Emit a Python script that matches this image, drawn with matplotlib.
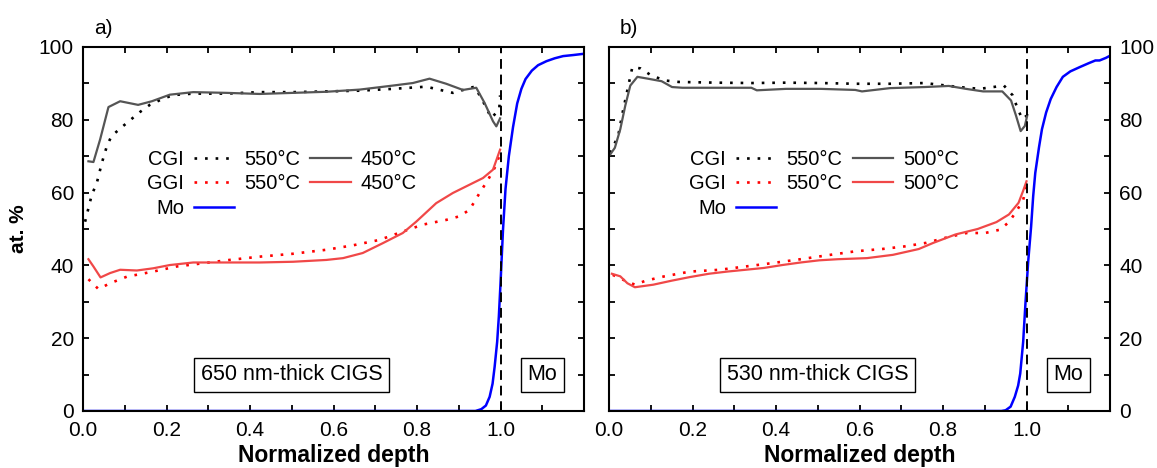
import numpy as np
import matplotlib
matplotlib.use("Agg")
import matplotlib.pyplot as plt
from matplotlib.lines import Line2D
from matplotlib.ticker import FixedLocator

plt.rcParams['font.family'] = ['Liberation Sans', 'DejaVu Sans']
plt.rcParams['font.size'] = 15

# ---------------- panel a) 650 nm ----------------
a_cgi450_x = [0.013, 0.025, 0.041, 0.061, 0.089, 0.132, 0.165, 0.208, 0.264, 0.344, 0.423, 0.503,
              0.583, 0.663, 0.742, 0.790, 0.830, 0.870, 0.910, 0.942, 0.962, 0.982, 0.990, 0.999]
a_cgi450_y = [68.6, 68.4, 74.6, 83.5, 85.1, 84.1, 85.1, 86.9, 87.6, 87.4, 87.1, 87.4,
              87.7, 88.3, 89.4, 90.1, 91.3, 89.9, 88.2, 88.8, 84.6, 79.6, 78.2, 80.4]

a_cgi550_x = [0.005, 0.021, 0.033, 0.045, 0.057, 0.068, 0.091, 0.115, 0.136, 0.160, 0.188, 0.216,
              0.264, 0.344, 0.423, 0.503, 0.583, 0.663, 0.742, 0.822, 0.886, 0.938, 0.958, 0.978,
              0.997, 0.999]
a_cgi550_y = [52.0, 59.4, 62.6, 68.1, 72.7, 75.5, 77.8, 80.1, 82.1, 84.1, 85.6, 86.8,
              87.2, 87.2, 87.6, 87.6, 87.8, 88.0, 88.5, 89.1, 87.4, 89.1, 85.1, 80.5,
              82.8, 86.7]

a_ggi450_x = [0.013, 0.025, 0.042, 0.065, 0.089, 0.129, 0.168, 0.208, 0.264, 0.344, 0.423, 0.503,
              0.583, 0.623, 0.670, 0.718, 0.766, 0.798, 0.846, 0.886, 0.958, 0.982, 0.999]
a_ggi450_y = [41.7, 39.7, 36.7, 37.9, 38.8, 38.6, 39.2, 40.1, 40.8, 40.8, 40.8, 41.0,
              41.5, 42.0, 43.4, 46.1, 48.9, 52.0, 57.1, 59.9, 64.0, 66.3, 71.8]

a_ggi550_x = [0.013, 0.037, 0.065, 0.105, 0.168, 0.224, 0.288, 0.351, 0.423, 0.503, 0.583, 0.646,
              0.710, 0.766, 0.814, 0.870, 0.902, 0.926, 0.950, 0.970, 0.986, 0.997]
a_ggi550_y = [36.2, 33.5, 35.1, 36.9, 38.3, 39.7, 40.6, 41.5, 42.4, 43.2, 44.3, 45.5,
              47.0, 49.3, 51.2, 52.5, 53.5, 55.3, 59.9, 63.5, 66.8, 70.0]

a_mo_x = [0.0, 0.5, 0.94, 0.954, 0.965, 0.974, 0.981, 0.986, 0.992, 0.996, 1.0, 1.006,
          1.012, 1.02, 1.03, 1.04, 1.05, 1.06, 1.075, 1.09, 1.11, 1.13, 1.15, 1.175, 1.197]
a_mo_y = [0.0, 0.0, 0.0, 0.5, 1.5, 3.9, 7.5, 12.2, 19.0, 25.9, 35.0, 49.8,
          61.0, 70.0, 78.0, 84.5, 88.5, 91.2, 93.5, 95.0, 96.1, 96.9, 97.5, 97.8, 98.1]

# ---------------- panel b) 530 nm ----------------
b_cgi500_x = [0.003, 0.014, 0.027, 0.039, 0.051, 0.068, 0.093, 0.126, 0.151, 0.176, 0.258, 0.341,
              0.354, 0.424, 0.507, 0.590, 0.606, 0.673, 0.756, 0.814, 0.855, 0.896, 0.942, 0.963,
              0.975, 0.986, 0.996, 1.002]
b_cgi500_y = [70.5, 72.3, 77.4, 83.9, 89.4, 91.8, 91.3, 90.6, 89.0, 88.8, 88.8, 88.8,
              88.1, 88.5, 88.5, 88.2, 87.8, 88.7, 89.0, 89.3, 88.5, 87.8, 87.8, 85.3,
              81.1, 76.9, 78.3, 81.3]

b_cgi550_x = [0.003, 0.022, 0.031, 0.043, 0.056, 0.076, 0.101, 0.134, 0.167, 0.258, 0.341, 0.424,
              0.507, 0.590, 0.673, 0.756, 0.838, 0.888, 0.946, 0.967, 0.979, 0.990, 1.0]
b_cgi550_y = [70.9, 75.6, 81.1, 87.6, 94.5, 94.1, 92.2, 90.8, 90.4, 90.2, 90.1, 90.2,
              90.1, 89.9, 89.9, 90.1, 89.0, 88.5, 89.4, 86.7, 83.0, 80.2, 81.1]

b_ggi500_x = [0.007, 0.027, 0.044, 0.062, 0.106, 0.150, 0.194, 0.239, 0.283, 0.327, 0.371, 0.415,
              0.459, 0.504, 0.548, 0.618, 0.680, 0.742, 0.777, 0.830, 0.883, 0.928, 0.958, 0.981,
              0.992, 1.0]
b_ggi500_y = [37.7, 37.0, 35.1, 34.0, 34.7, 35.8, 36.8, 37.7, 38.3, 38.8, 39.3, 40.1,
              40.8, 41.4, 41.7, 42.0, 42.9, 44.5, 46.2, 48.5, 50.0, 51.9, 54.0, 57.2,
              60.5, 63.1]

b_ggi550_x = [0.009, 0.035, 0.062, 0.088, 0.133, 0.194, 0.265, 0.327, 0.389, 0.459, 0.530, 0.592,
              0.654, 0.707, 0.760, 0.813, 0.857, 0.901, 0.936, 0.958, 0.976, 0.992, 1.0]
b_ggi550_y = [37.4, 36.0, 34.7, 35.8, 37.0, 38.3, 38.8, 39.7, 40.6, 41.7, 42.9, 43.9,
              44.5, 45.2, 46.2, 47.8, 48.9, 48.9, 49.8, 51.9, 54.9, 58.0, 61.7]

b_mo_x = [0.0, 0.5, 0.94, 0.950, 0.962, 0.972, 0.980, 0.985, 0.992, 0.998, 1.004, 1.011,
          1.016, 1.021, 1.030, 1.037, 1.047, 1.058, 1.072, 1.087, 1.105, 1.128, 1.150, 1.165,
          1.175, 1.19, 1.2]
b_mo_y = [0.0, 0.0, 0.0, 0.2, 1.2, 3.9, 7.0, 10.3, 19.0, 30.5, 41.0, 50.6,
          59.0, 65.4, 72.5, 77.4, 82.0, 85.7, 89.0, 91.8, 93.3, 94.5, 95.6, 96.3,
          96.3, 97.0, 97.6]

x_major = [0.0, 0.2, 0.4, 0.6, 0.8, 1.0]
x_minor = [0.1, 0.3, 0.5, 0.7, 0.9, 1.1]
y_major = [0, 20, 40, 60, 80, 100]
y_minor = [10, 30, 50, 70, 90]

GRAY = '#555555'
RED_SOLID = '#f04848'
DOT = (0, (1, 3))


def draw_panel(ax, cgi_sol, cgi_dot, ggi_sol, ggi_dot, mo, temp, thick, tag, x_leg):
    ax.plot(*cgi_dot, color='black', lw=1.9, ls=DOT)
    ax.plot(*cgi_sol, color=GRAY, lw=1.6)
    ax.plot(*ggi_dot, color='red', lw=1.9, ls=DOT)
    ax.plot(*ggi_sol, color=RED_SOLID, lw=1.6)
    ax.plot(*mo, color='#0000ff', lw=1.8)
    ax.axvline(1.0, color='black', lw=1.4, ls=(0, (5, 3)))

    ax.set_xlim(0, 1.2)
    ax.set_ylim(0, 100)
    ax.xaxis.set_major_locator(FixedLocator(x_major))
    ax.xaxis.set_minor_locator(FixedLocator(x_minor))
    ax.yaxis.set_major_locator(FixedLocator(y_major))
    ax.yaxis.set_minor_locator(FixedLocator(y_minor))
    ax.tick_params(which='both', direction='in', top=True, right=True,
                   length=4, width=1.3, labelsize=15)
    ax.tick_params(axis='x', pad=7)
    ax.tick_params(axis='y', pad=6.5)
    for s in ax.spines.values():
        s.set_linewidth(1.5)
    ax.set_xlabel('Normalized depth', fontweight='bold', fontsize=16.5, labelpad=3)

    box = dict(boxstyle='square,pad=0.3', fc='white', ec='black', lw=1.0)
    ax.text(0.5, 10, thick, ha='center', va='center', fontsize=15.5, bbox=box)
    ax.text(1.1, 10, 'Mo', ha='center', va='center', fontsize=15.5, bbox=box)
    ax.text(0.022, 1.052, tag, transform=ax.transAxes, ha='left', va='center', fontsize=15)

    blank = Line2D([], [], color='none')
    handles = [Line2D([], [], color='black', lw=1.9, ls=DOT),
               Line2D([], [], color='red', lw=1.9, ls=DOT),
               Line2D([], [], color='#0000ff', lw=1.8),
               Line2D([], [], color=GRAY, lw=1.6),
               Line2D([], [], color=RED_SOLID, lw=1.6),
               blank, blank, blank, blank]
    labels = ['CGI', 'GGI', 'Mo', '550°C', '550°C', '', temp, temp, '']
    ax.legend(handles, labels, ncol=3, markerfirst=False, frameon=False,
              loc='upper left', bbox_to_anchor=(x_leg, 0.718), borderpad=0,
              borderaxespad=0, handlelength=2.0, handletextpad=0.5,
              columnspacing=0.5, labelspacing=0.28, fontsize=14.5)


fig = plt.figure(figsize=(11.57, 4.68), dpi=100)
ax1 = fig.add_axes([83 / 1157, 57 / 468, 501 / 1157, 364 / 468])
ax2 = fig.add_axes([609 / 1157, 57 / 468, 501 / 1157, 364 / 468])

draw_panel(ax1, (a_cgi450_x, a_cgi450_y), (a_cgi550_x, a_cgi550_y),
           (a_ggi450_x, a_ggi450_y), (a_ggi550_x, a_ggi550_y), (a_mo_x, a_mo_y),
           '450°C', '650 nm-thick CIGS', 'a)', 0.128)
draw_panel(ax2, (b_cgi500_x, b_cgi500_y), (b_cgi550_x, b_cgi550_y),
           (b_ggi500_x, b_ggi500_y), (b_ggi550_x, b_ggi550_y), (b_mo_x, b_mo_y),
           '500°C', '530 nm-thick CIGS', 'b)', 0.16)

ax1.set_ylabel('at. %', fontweight='bold', fontsize=15, labelpad=8)
ax2.tick_params(axis='y', which='both', labelleft=False, labelright=True)

fig.savefig('out.png', dpi=100)
